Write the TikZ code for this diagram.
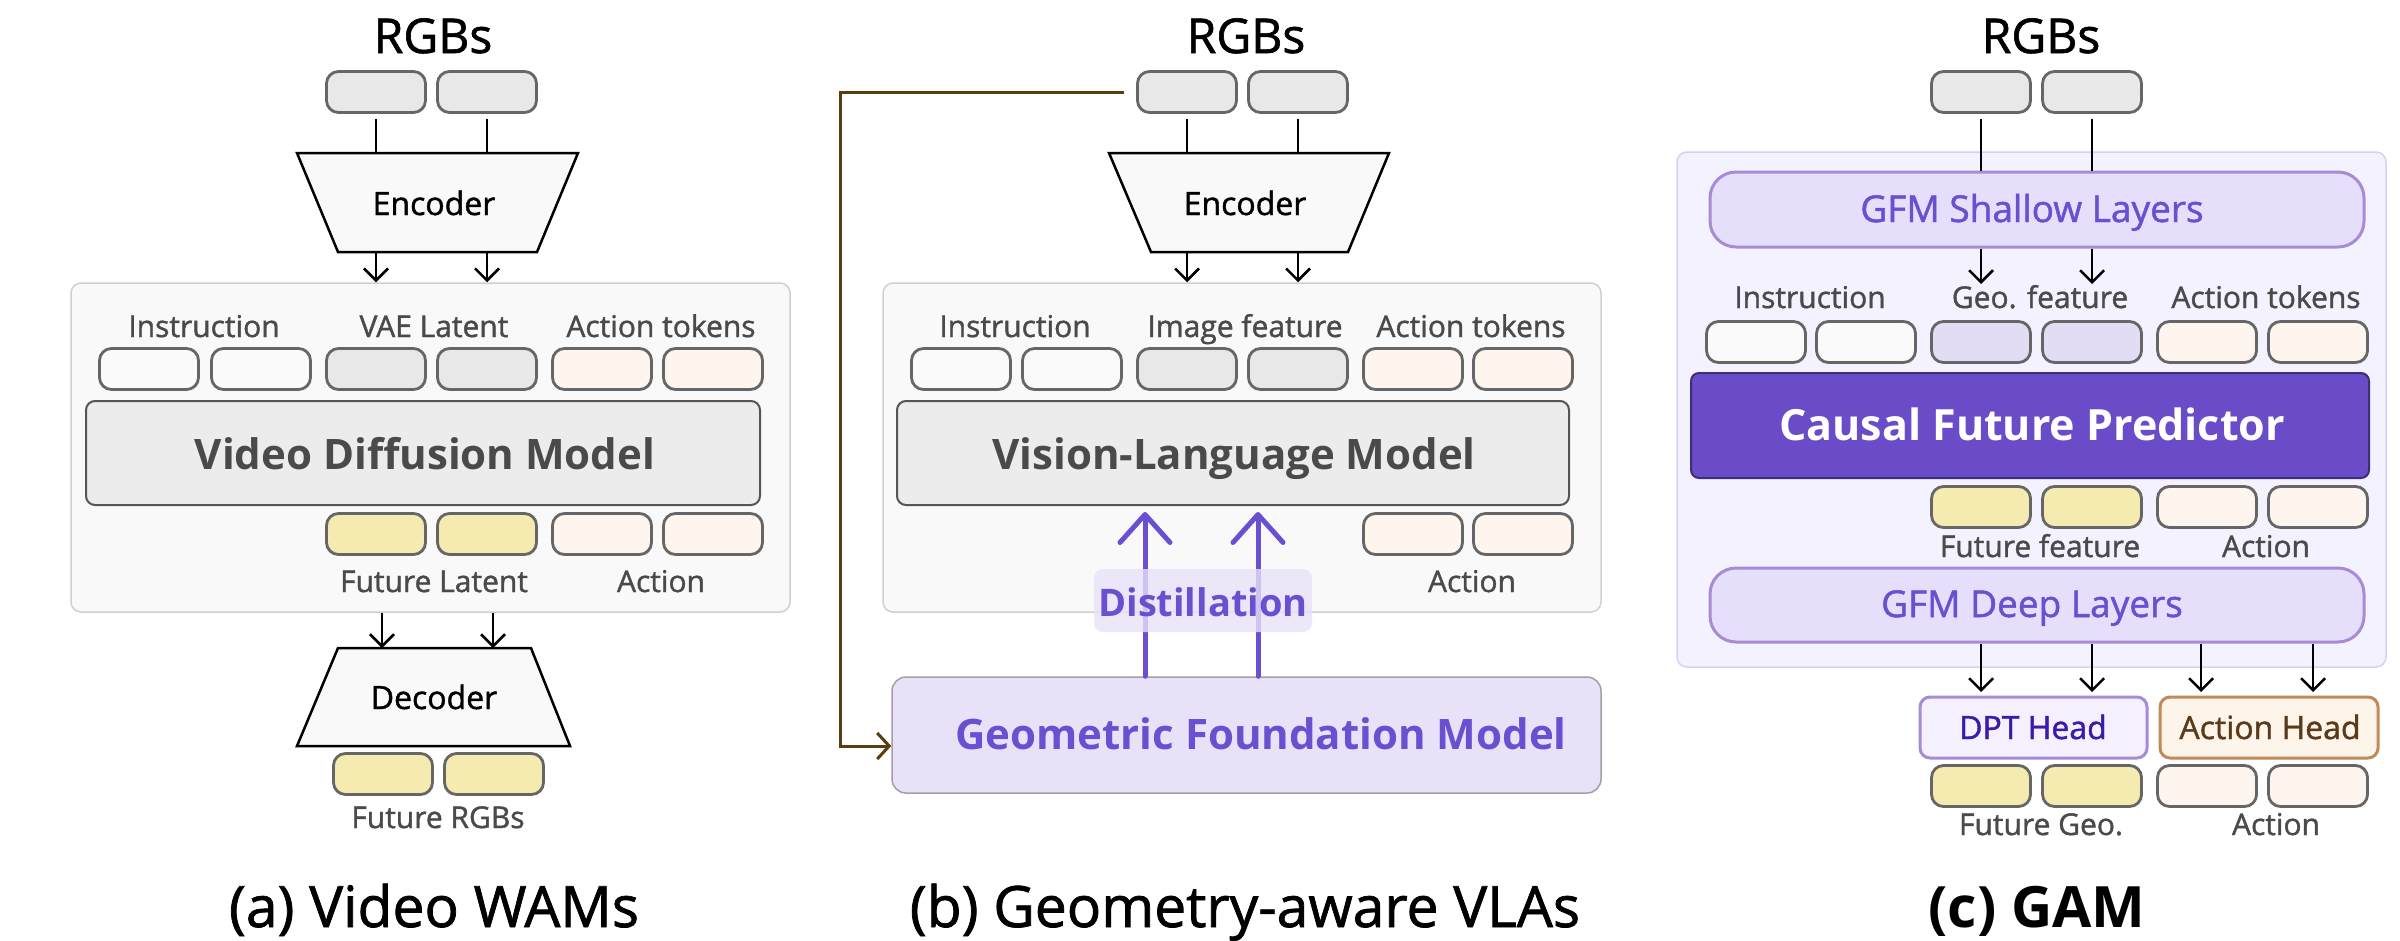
\documentclass[tikz,border=0pt]{standalone}
\usepackage{fontspec}
\setmainfont{Open Sans}
\newfontfamily\medfont{Open Sans}[FakeBold=1.3]
\usetikzlibrary{arrows.meta}
\definecolor{tokstroke}{HTML}{666666}
\definecolor{tokgray}{HTML}{E8E8E8}
\definecolor{tokwhite}{HTML}{FAFAFA}
\definecolor{tokpeach}{HTML}{FDF5EE}
\definecolor{tokyellow}{HTML}{F5EBB0}
\definecolor{toklav}{HTML}{E2DDF5}
\definecolor{contfill}{HTML}{F9F9F9}
\definecolor{contstroke}{HTML}{D0D0D0}
\definecolor{modelfill}{HTML}{ECECEC}
\definecolor{modelstroke}{HTML}{555555}
\definecolor{labelgray}{HTML}{4A4A4A}
\definecolor{purp}{HTML}{6A4FD0}
\definecolor{gfmfill}{HTML}{E8E2F8}
\definecolor{gfmstroke}{HTML}{A89CA8}
\definecolor{cfpfill}{HTML}{6A4BC8}
\definecolor{cfpstroke}{HTML}{3E2E7A}
\definecolor{contcfill}{HTML}{F4F2FE}
\definecolor{contcstroke}{HTML}{D8D0F0}
\definecolor{layfill}{HTML}{E6DFFB}
\definecolor{laystroke}{HTML}{A78BD4}
\definecolor{dptfill}{HTML}{F4F0FE}
\definecolor{dpttext}{HTML}{3A1AA8}
\definecolor{ahfill}{HTML}{FDF4EA}
\definecolor{ahstroke}{HTML}{C08A5A}
\definecolor{ahtext}{HTML}{5A3A1A}
\definecolor{brownline}{HTML}{5C3D10}
\newcommand\myfs[1]{\fontsize{#1}{#1}\selectfont}
\begin{document}
\begin{tikzpicture}[x=1pt,y=-1pt,
  tok/.style={rectangle, rounded corners=12pt, draw=tokstroke, line width=2.8pt, minimum width=99pt, minimum height=41pt, inner sep=0pt},
  bx/.style={rectangle, inner sep=0pt},
  title/.style={inner sep=0pt, anchor=base, font=\medfont\myfs{48}},
  enctext/.style={inner sep=0pt, anchor=base, font=\medfont\myfs{32}},
  lab/.style={inner sep=0pt, anchor=base, text=labelgray, font=\medfont\myfs{30}},
  captxt/.style={inner sep=0pt, anchor=base, font=\medfont\myfs{57}},
  arr/.style={-{Straight Barb[length=12pt,width=24pt]}, line width=2.5pt},
  plain/.style={line width=2.5pt},
  parr/.style={-{Straight Barb[length=28pt,width=50pt,line cap=round,line join=round]}, line width=5pt, draw=purp, line cap=round},
  trap/.style={draw=black, line width=2.5pt, fill=contfill, line join=miter}
]
\fill[white] (0,0) rectangle (2400,940);
\path[use as bounding box] (0,0) rectangle (2400,940);

% ================= (a) =================
\node[title] (aRGB) at (433,53) {RGBs};
\node[tok, fill=tokgray] (ar1) at (376,92) {};
\node[tok, fill=tokgray] (ar2) at (487,92) {};
\draw[trap] (297,153) -- (578,153) -- (537,252) -- (338,252) -- cycle;
\coordinate (aencT) at (433,153);
\coordinate (aencB) at (433,252);
\node[enctext] (aenc) at (434,215) {Encoder};
\draw[plain, shorten <=5pt] (ar1.south) -- (ar1.south |- aencT);
\draw[plain, shorten <=5pt] (ar2.south) -- (ar2.south |- aencT);

\node[bx, rounded corners=10pt, draw=contstroke, line width=1.5pt, fill=contfill, minimum width=719pt, minimum height=329pt] (acont) at (430.5,447.5) {};
\draw[arr] (ar1.south |- aencB) -- (ar1.south |- acont.north);
\draw[arr] (ar2.south |- aencB) -- (ar2.south |- acont.north);

\node[lab] (alab1) at (204,337) {Instruction};
\node[lab] (alab2) at (434,337) {VAE Latent};
\node[lab] (alab3) at (661,337) {Action tokens};
\node[tok, fill=tokwhite] (at1) at (149,369) {};
\node[tok, fill=tokwhite] (at2) at (261,369) {};
\node[tok, fill=tokgray] (at3) at (376,369) {};
\node[tok, fill=tokgray] (at4) at (487,369) {};
\node[tok, fill=tokpeach] (at5) at (602,369) {};
\node[tok, fill=tokpeach] (at6) at (713,369) {};
\node[bx, rounded corners=9pt, draw=modelstroke, line width=2pt, fill=modelfill, minimum width=674pt, minimum height=104pt] (avdm) at (423,453) {};
\node[inner sep=0pt, anchor=base, text=labelgray, font=\myfs{42}\bfseries] (avdmt) at (425,469) {Video Diffusion Model};
\node[tok, fill=tokyellow] (ao1) at (376,534) {};
\node[tok, fill=tokyellow] (ao2) at (487,534) {};
\node[tok, fill=tokpeach] (ao3) at (602,534) {};
\node[tok, fill=tokpeach] (ao4) at (713,534) {};
\node[lab] (alab4) at (434,592) {Future Latent};
\node[lab] (alab5) at (661,592) {Action};

\draw[trap] (338,648) -- (531,648) -- (570,746) -- (297,746) -- cycle;
\coordinate (adecT) at (434,648);
\node[enctext] (adec) at (434,709) {Decoder};
\draw[arr] (382,0 |- acont.south) -- (382,648);
\draw[arr] (493,0 |- acont.south) -- (493,648);
\node[tok, fill=tokyellow] (af1) at (383,774) {};
\node[tok, fill=tokyellow] (af2) at (494,774) {};
\node[lab] (alab6) at (438,828) {Future RGBs};
\node[captxt] (acap) at (434,927) {(a) Video WAMs};

% ================= (b) =================
\node[title] (bRGB) at (1246,53) {RGBs};
\node[tok, fill=tokgray] (br1) at (1187,92) {};
\node[tok, fill=tokgray] (br2) at (1298,92) {};
\draw[trap] (1109,153) -- (1389,153) -- (1348,252) -- (1151,252) -- cycle;
\coordinate (bencT) at (1245,153);
\coordinate (bencB) at (1245,252);
\node[enctext] (benc) at (1245,215) {Encoder};
\draw[plain, shorten <=5pt] (br1.south) -- (br1.south |- bencT);
\draw[plain, shorten <=5pt] (br2.south) -- (br2.south |- bencT);

\node[bx, rounded corners=10pt, draw=contstroke, line width=1.5pt, fill=contfill, minimum width=718pt, minimum height=329pt] (bcont) at (1242,447.5) {};
\draw[arr] (br1.south |- bencB) -- (br1.south |- bcont.north);
\draw[arr] (br2.south |- bencB) -- (br2.south |- bcont.north);

\node[lab] (blab1) at (1015,337) {Instruction};
\node[lab] (blab2) at (1245,337) {Image feature};
\node[lab] (blab3) at (1471,337) {Action tokens};
\node[tok, fill=tokwhite] (bt1) at (961,369) {};
\node[tok, fill=tokwhite] (bt2) at (1072,369) {};
\node[tok, fill=tokgray] (bt3) at (1187,369) {};
\node[tok, fill=tokgray] (bt4) at (1298,369) {};
\node[tok, fill=tokpeach] (bt5) at (1413,369) {};
\node[tok, fill=tokpeach] (bt6) at (1523,369) {};
\node[bx, rounded corners=9pt, draw=modelstroke, line width=2pt, fill=modelfill, minimum width=672pt, minimum height=104pt] (bvlm) at (1233,453) {};
\node[inner sep=0pt, anchor=base, text=labelgray, font=\myfs{42}\bfseries] (bvlmt) at (1234,469) {Vision-Language Model};
\node[tok, fill=tokpeach] (bo1) at (1413,534) {};
\node[tok, fill=tokpeach] (bo2) at (1523,534) {};
\node[lab] (blab4) at (1472,592) {Action};

\node[bx, rounded corners=14pt, draw=gfmstroke, line width=1.5pt, fill=gfmfill, minimum width=709pt, minimum height=116pt] (bgfm) at (1246.5,735) {};
\node[inner sep=0pt, anchor=base, text=purp, font=\myfs{42}\bfseries] (bgfmt) at (1261,749) {Geometric Foundation Model};
\draw[parr] (1145,0 |- bgfm.north) -- (1145,512);
\draw[parr] (1258,0 |- bgfm.north) -- (1258,512);
\node[bx, rounded corners=9pt, fill=gfmfill, fill opacity=0.8, minimum width=218pt, minimum height=63pt] (bdist) at (1203,600.5) {};
\node[inner sep=0pt, anchor=base, text=purp, font=\myfs{38}\bfseries] (bdistt) at (1203,616) {Distillation};
\draw[brownline, line width=3pt, shorten <=12pt, -{Straight Barb[length=12pt,width=26pt]}] (br1.west) -- (840,92) |- ([yshift=-11pt]bgfm.west);
\node[captxt] (bcap) at (1245,927) {(b) Geometry-aware VLAs};

% ================= (c) =================
\node[title] (cRGB) at (2041,53) {RGBs};
\node[tok, fill=tokgray] (cr1) at (1981,92) {};
\node[tok, fill=tokgray] (cr2) at (2092,92) {};
\node[bx, rounded corners=10pt, draw=contcstroke, line width=1.5pt, fill=contcfill, minimum width=709pt, minimum height=515pt] (ccont) at (2031.5,409.5) {};
\node[bx, rounded corners=26pt, draw=laystroke, line width=3pt, fill=layfill, minimum width=654pt, minimum height=75pt] (cshal) at (2037,209.5) {};
\node[inner sep=0pt, anchor=base, text=purp, font=\medfont\myfs{37}] (cshalt) at (2032,222) {GFM Shallow Layers};
\draw[plain, shorten <=5pt] (cr1.south) -- (cr1.south |- cshal.north);
\draw[plain, shorten <=5pt] (cr2.south) -- (cr2.south |- cshal.north);

\node[lab] (clab1) at (1810,308) {Instruction};
\node[lab] (clab2) at (2040,308) {Geo. feature};
\node[lab] (clab3) at (2266,308) {Action tokens};
\node[tok, fill=tokwhite] (ct1) at (1756,342) {};
\node[tok, fill=tokwhite] (ct2) at (1866,342) {};
\node[tok, fill=toklav] (ct3) at (1981,342) {};
\node[tok, fill=toklav] (ct4) at (2092,342) {};
\node[tok, fill=tokpeach] (ct5) at (2207,342) {};
\node[tok, fill=tokpeach] (ct6) at (2318,342) {};
\draw[arr] (cr1.south |- cshal.south) -- (1981,284);
\draw[arr] (cr2.south |- cshal.south) -- (2092,284);

\node[bx, rounded corners=8pt, draw=cfpstroke, line width=2pt, fill=cfpfill, minimum width=678pt, minimum height=105pt] (ccfp) at (2030,425.5) {};
\node[inner sep=0pt, anchor=base, text=white, font=\myfs{43}\bfseries] (ccfpt) at (2032,440) {Causal Future Predictor};
\node[tok, fill=tokyellow] (co1) at (1981,507) {};
\node[tok, fill=tokyellow] (co2) at (2092,507) {};
\node[tok, fill=tokpeach] (co3) at (2207,507) {};
\node[tok, fill=tokpeach] (co4) at (2318,507) {};
\node[lab] (clab4) at (2040,557) {Future feature};
\node[lab] (clab5) at (2266,557) {Action};
\node[bx, rounded corners=26pt, draw=laystroke, line width=3pt, fill=layfill, minimum width=654pt, minimum height=74pt] (cdeep) at (2037,605) {};
\node[inner sep=0pt, anchor=base, text=purp, font=\medfont\myfs{37}] (cdeept) at (2032,617) {GFM Deep Layers};

\node[bx, rounded corners=10pt, draw=laystroke, line width=3pt, fill=dptfill, minimum width=227pt, minimum height=61pt] (cdpt) at (2033.5,727.5) {};
\node[inner sep=0pt, anchor=base, text=dpttext, font=\medfont\myfs{32}] (cdptt) at (2033,739) {DPT Head};
\node[bx, rounded corners=10pt, draw=ahstroke, line width=3pt, fill=ahfill, minimum width=218pt, minimum height=61pt] (cah) at (2269,727.5) {};
\node[inner sep=0pt, anchor=base, text=ahtext, font=\medfont\myfs{32}] (caht) at (2270,739) {Action Head};
\draw[arr] (1981,0 |- cdeep.south) -- (1981,692);
\draw[arr] (2092,0 |- cdeep.south) -- (2092,692);
\draw[arr] (2201,0 |- cdeep.south) -- (2201,692);
\draw[arr] (2313,0 |- cdeep.south) -- (2313,692);

\node[tok, fill=tokyellow] (cf1) at (1981,786) {};
\node[tok, fill=tokyellow] (cf2) at (2092,786) {};
\node[tok, fill=tokpeach] (cf3) at (2207,786) {};
\node[tok, fill=tokpeach] (cf4) at (2318,786) {};
\node[lab] (clab6) at (2041,835) {Future Geo.};
\node[lab] (clab7) at (2276,835) {Action};
\node[captxt, font=\myfs{57}\bfseries] (ccap) at (2037,927) {(c) GAM};
\end{tikzpicture}
\end{document}
